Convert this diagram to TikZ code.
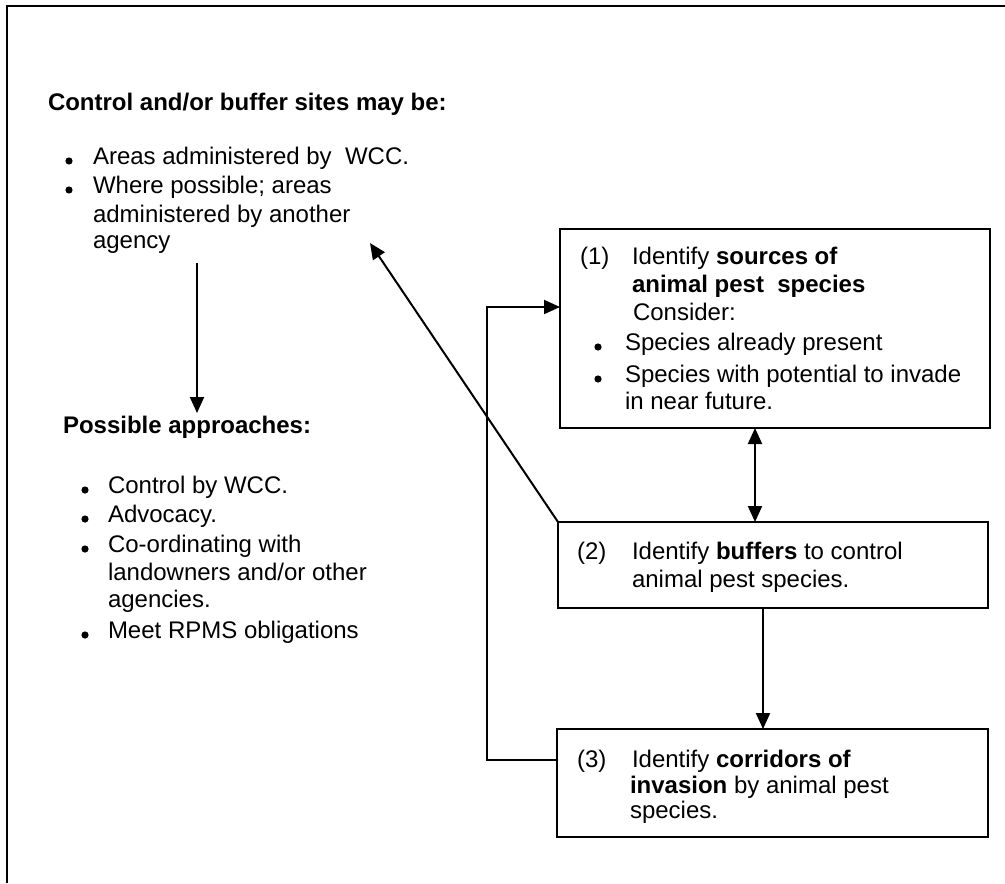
\documentclass[tikz,border=0pt]{standalone}
\usepackage{fontspec}
\setmainfont{Liberation Sans}
\usetikzlibrary{arrows.meta}
\begin{document}
\begin{tikzpicture}[x=0.5pt,y=-0.5pt,
  line width=1pt,
  txt/.style={anchor=base west, inner sep=0pt, outer sep=0pt, font=\fontsize{12}{14.5}\selectfont},
  box/.style={draw, rectangle, anchor=north west, inner sep=0pt, outer sep=0pt},
  arr/.style={-{Triangle[length=8pt,width=7pt]}},
  darr/.style={{Triangle[length=8pt,width=7pt]}-{Triangle[length=8pt,width=7pt]}},
  bul/.style={circle, fill, inner sep=0pt, minimum size=3.6pt}]
\useasboundingbox (0,0) rectangle (1005,883);
% outer frame (top and left)
\draw (7,883) -- (7,6) -- (1005,6);

% left texts
\node[txt] (h1) at (48,111) {\textbf{Control and/or buffer sites may be:}};
\node[bul] (u1) at (69,161) {};
\node[txt] (t1) at (93,164) {Areas administered by~ WCC.};
\node[bul] (u2) at (69,190) {};
\node[txt] (t2) at (93,193) {Where possible; areas};
\node[txt] (t3) at (93,222) {administered by another};
\node[txt] (t4) at (93,248) {agency};

\node[txt] (h2) at (63,433) {\textbf{Possible approaches:}};
\node[bul] (v1) at (85,490) {};
\node[txt] (s1) at (108,493) {Control by WCC.};
\node[bul] (v2) at (85,519) {};
\node[txt] (s2) at (108,522) {Advocacy.};
\node[bul] (v3) at (85,549) {};
\node[txt] (s3) at (108,552) {Co-ordinating with};
\node[txt] (s4) at (108,580) {landowners and/or other};
\node[txt] (s5) at (108,607) {agencies.};
\node[bul] (v4) at (85,635) {};
\node[txt] (s6) at (108,638) {Meet RPMS obligations};

% boxes
\node[box, minimum width=215pt, minimum height=99.5pt] (b1) at (560,229) {};
\node[box, minimum width=215pt, minimum height=43pt] (b2) at (558,522) {};
\node[box, minimum width=215.5pt, minimum height=54pt] (b3) at (557,729) {};

% box 1 text
\node[txt] (n1) at (580,264) {(1)};
\node[txt] (a1) at (632,264) {Identify \textbf{sources of}};
\node[txt] (a2) at (632,292) {\textbf{animal pest~ species}};
\node[txt] (a3) at (633,320) {Consider:};
\node[bul] (w1) at (598,347) {};
\node[txt] (a4) at (625,350) {Species already present};
\node[bul] (w2) at (598,379) {};
\node[txt] (a5) at (625,382) {Species with potential to invade};
\node[txt] (a6) at (625,409) {in near future.};

% box 2 text
\node[txt] (n2) at (577,559) {(2)};
\node[txt] (c1) at (632,559) {Identify \textbf{buffers} to control};
\node[txt] (c2) at (632,587) {animal pest species.};

% box 3 text
\node[txt] (n3) at (577,767) {(3)};
\node[txt] (d1) at (632,767) {Identify \textbf{corridors of}};
\node[txt] (d2) at (630,793) {\textbf{invasion} by animal pest};
\node[txt] (d3) at (630,818) {species.};

% connectors
\coordinate (vtop) at (197,263);
\coordinate (vbot) at (197,413);
\draw[arr] (vtop) -- (vbot);

\coordinate (diagtip) at (370,243);
\draw[arr] (b2.north west) -- (diagtip);

\coordinate (x12) at (755,0);
\draw[darr] (b1.south -| x12) -- (b2.north -| x12);

\coordinate (x23) at (763,0);
\draw[arr] (b2.south -| x23) -- (b3.north -| x23);

\coordinate (loopBot) at (487,760);
\coordinate (loopTop) at (487,307);
\draw[arr] (loopBot -| b3.west) -- (loopBot) -- (loopTop) -- (loopTop -| b1.west);
\end{tikzpicture}
\end{document}
